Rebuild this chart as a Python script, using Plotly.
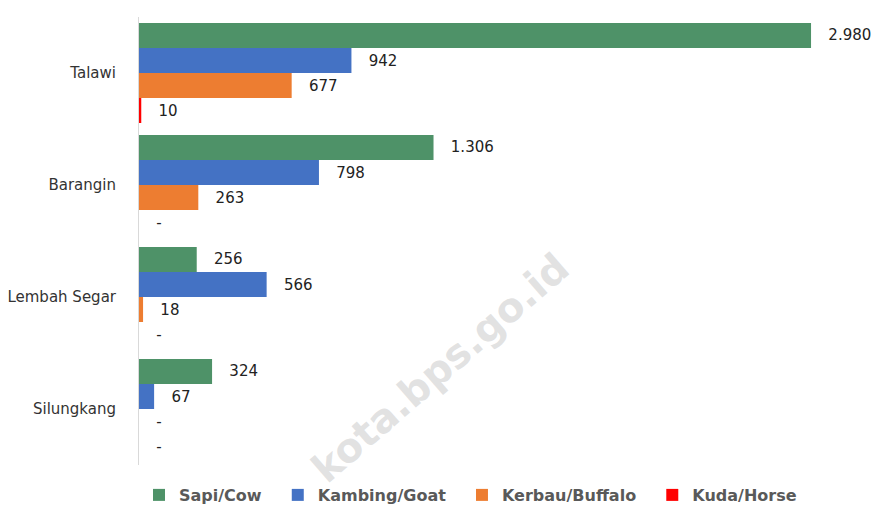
import plotly.graph_objects as go

categories = ["Talawi", "Barangin", "Lembah Segar", "Silungkang"]
series_names = ["Sapi/Cow", "Kambing/Goat", "Kerbau/Buffalo", "Kuda/Horse"]
sapi = [2980, 1306, 256, 324]
kambing = [942, 798, 566, 67]
kerbau = [677, 263, 18, 0]
kuda = [10, 0, 0, 0]
colors = ["#4e9268", "#4472c4", "#ed7d31", "#ff0000"]

def fmt(v):
    if v == 0:
        return "   -"
    return "   " + f"{v:,}".replace(",", ".")

fig = go.Figure()
for name, vals, col in zip(series_names, [sapi, kambing, kerbau, kuda], colors):
    fig.add_trace(go.Bar(
        y=categories, x=vals, name=name + "\u00a0\u00a0", orientation="h",
        marker=dict(color=col, line=dict(width=0)),
        text=[fmt(v) for v in vals], textposition="outside",
        textfont=dict(family="DejaVu Sans", size=15, color="#222222"),
        cliponaxis=False,
    ))

fig.add_annotation(
    text="<b>kota.bps.go.id</b>", x=0.43, y=0.217, xref="paper", yref="paper",
    xanchor="center", yanchor="middle",
    showarrow=False, textangle=-41,
    font=dict(family="DejaVu Sans", size=40, color="rgba(190,190,190,0.45)"),
)

fig.update_layout(
    width=871, height=501,
    margin=dict(l=131, r=40, t=9, b=44, autoexpand=False),
    barmode="group", bargap=0.107, bargroupgap=0,
    plot_bgcolor="white", paper_bgcolor="white",
    showlegend=True,
    legend=dict(orientation="h", x=0.0, xanchor="left", y=-0.029, yanchor="top",
                font=dict(family="DejaVu Sans", size=16, color="#595959", weight="bold"),
                itemwidth=30, traceorder="normal"),
    xaxis=dict(range=[0, 3104], showgrid=False, showticklabels=False, zeroline=False,
               showline=False, ticks="", automargin=False),
    yaxis=dict(autorange="reversed", showgrid=False, showline=True, linecolor="#d9d9d9",
               linewidth=1, ticks="", ticklabelstandoff=19, automargin=False,
               tickfont=dict(family="DejaVu Sans", size=15, color="#333333")),
)
fig.write_html("out.html")
